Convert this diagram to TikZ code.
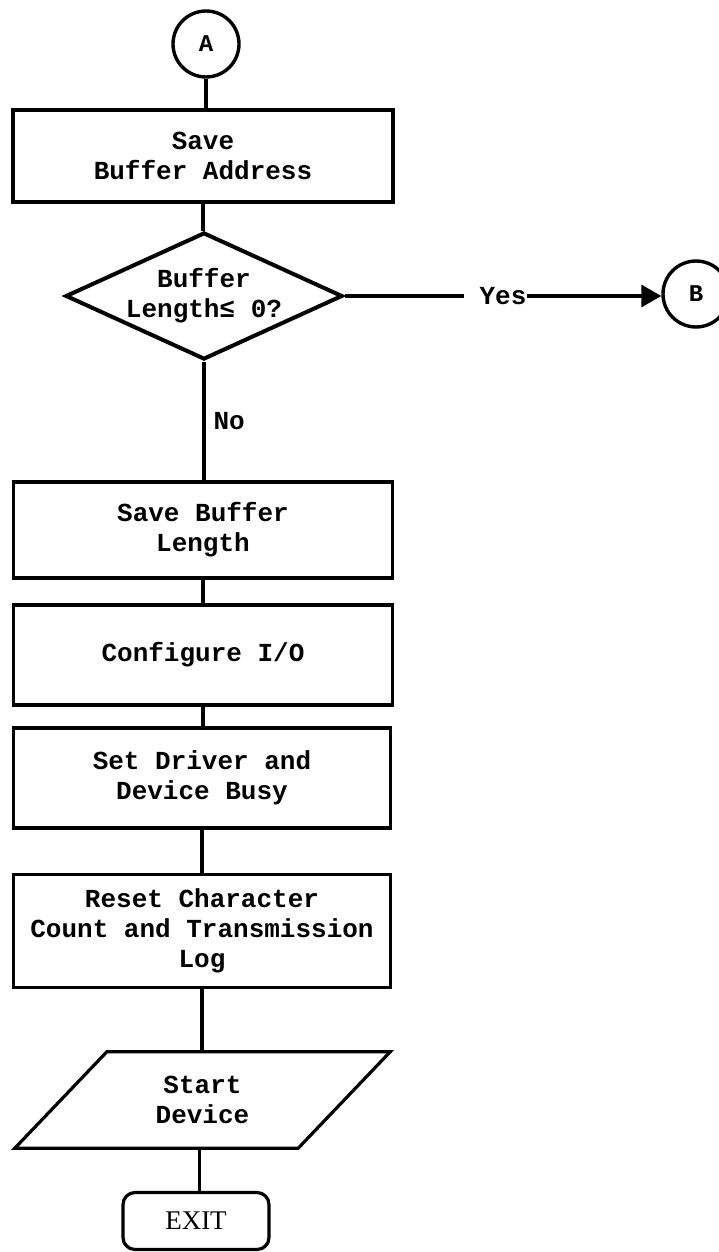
\documentclass[tikz,border=0pt]{standalone}
\usepackage{fontspec}
\setmonofont{Liberation Mono}
\newfontfamily\exitfont{Liberation Serif}
\usetikzlibrary{shapes.geometric,arrows.meta,calc}
\begin{document}
\begin{tikzpicture}[x=1pt,y=-1pt,
  every node/.style={font=\ttfamily\bfseries\fontsize{26}{30}\selectfont, align=center, inner sep=0pt},
  proc/.style={draw, rectangle, line width=3.2pt},
  conn/.style={line width=3.2pt},
  circ/.style={draw, circle, line width=3.4pt, minimum size=66pt, font=\ttfamily\bfseries\fontsize{24}{28}\selectfont},
  decide/.style={draw, diamond, aspect=2.2, line width=4pt, minimum width=277pt, minimum height=127pt},
  term/.style={draw, rounded corners=12pt, line width=3.2pt, minimum width=146pt, minimum height=57pt, font=\exitfont\fontsize{27}{30}\selectfont}
]
\useasboundingbox (0,0) rectangle (719,1252);

\node[circ] (A) at (206,44) {A};
\node[proc, minimum width=380pt, minimum height=92pt] (b1) at (203,156) {Save\\Buffer Address};
\node[decide] (d) at (204,296) {Buffer\\Length≤ 0?};
\node (yes) at (503,296) {Yes};
\node[circ] (B) at (696,294) {B};
\node[proc, minimum width=379pt, minimum height=96pt] (b2) at (203,530) {Save Buffer\\Length};
\node[proc, minimum width=379pt, minimum height=100pt] (b3) at (203,655) {Configure I/O};
\node[proc, minimum width=377pt, minimum height=100pt] (b4) at (202,778) {Set Driver and\\ Device Busy};
\node[proc, minimum width=377pt, minimum height=113pt] (b5) at (202,931) {Reset Character\\Count and Transmission\\Log};
\node[minimum width=375pt, minimum height=96pt] (sd) at (202.5,1100) {Start\\Device};
\draw[line width=3.2pt] ($(sd.north west)+(92pt,0)$) -- (sd.north east) -- ($(sd.south east)+(-92pt,0)$) -- (sd.south west) -- cycle;
\node[term] (ex) at (196,1221) {EXIT};

\draw[conn] (A.south) -- (A.south |- b1.north);
\draw[conn] (b1.south) -- (b1.south |- d.north);
\draw[conn] (d.east) -- ([xshift=-15pt]yes.west);
\draw[conn, -{Triangle[length=20pt,width=22pt]}] (yes.east) -- (yes.east -| B.west);
\draw[conn] (d.south) -- node[right=8pt] {No} (d.south |- b2.north);
\draw[conn] (b2.south) -- (b2.south |- b3.north);
\draw[conn] (b3.south) -- (b3.south |- b4.north);
\draw[conn] (b4.south) -- (b4.south |- b5.north);
\draw[conn] (b5.south) -- (b5.south |- sd.north);
\draw[conn] ([xshift=-3pt]sd.south) -- ([xshift=-3pt]sd.south |- ex.north);
\end{tikzpicture}
\end{document}
